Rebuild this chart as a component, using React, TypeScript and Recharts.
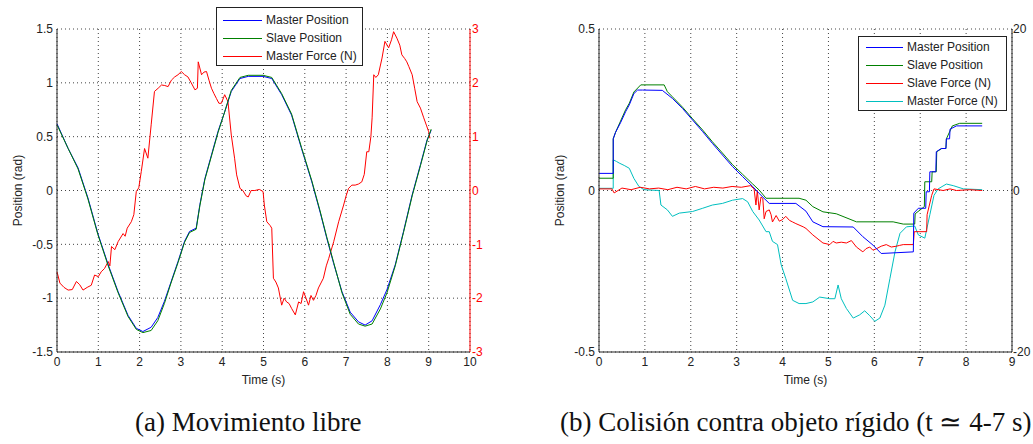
import React from "react";
import { LineChart, Line, XAxis, YAxis, CartesianGrid } from "recharts";

// ---- (a) free movement: [time s, value]
const masterPosA: [number, number][] = [
  [0, 0.62], [0.27, 0.39], [0.51, 0.21], [0.75, -0.07], [0.99, -0.4], [1.24, -0.69],
  [1.48, -0.94], [1.72, -1.16], [1.92, -1.28], [2.08, -1.31], [2.28, -1.27], [2.44, -1.18],
  [2.6, -1.03], [2.76, -0.85], [2.93, -0.66], [3.09, -0.47], [3.21, -0.38], [3.37, -0.35],
  [3.46, -0.13], [3.58, 0.11], [3.74, 0.33], [3.9, 0.55], [4.06, 0.73], [4.22, 0.92],
  [4.43, 1.04], [4.63, 1.06], [4.99, 1.06], [5.2, 1.04], [5.44, 0.89], [5.68, 0.7],
  [5.92, 0.39], [6.17, 0.08], [6.37, -0.2], [6.53, -0.44], [6.7, -0.68], [6.9, -0.94],
  [7.1, -1.13], [7.3, -1.22], [7.46, -1.25], [7.63, -1.21], [7.83, -1.06], [7.99, -0.92],
  [8.19, -0.69], [8.39, -0.38], [8.6, -0.04], [8.8, 0.24], [8.96, 0.47], [9.06, 0.56],
];

const slavePosA: [number, number][] = [
  [0, 0.61], [0.27, 0.39], [0.51, 0.2], [0.75, -0.08], [0.99, -0.41], [1.24, -0.7],
  [1.48, -0.95], [1.72, -1.17], [1.92, -1.29], [2.08, -1.32], [2.28, -1.3], [2.44, -1.21],
  [2.6, -1.05], [2.76, -0.86], [2.93, -0.67], [3.09, -0.48], [3.21, -0.39], [3.37, -0.36],
  [3.46, -0.14], [3.58, 0.1], [3.74, 0.32], [3.9, 0.54], [4.06, 0.73], [4.22, 0.93],
  [4.43, 1.05], [4.63, 1.07], [4.99, 1.07], [5.2, 1.05], [5.44, 0.9], [5.68, 0.71],
  [5.92, 0.4], [6.17, 0.09], [6.37, -0.19], [6.53, -0.43], [6.7, -0.67], [6.9, -0.95],
  [7.1, -1.15], [7.3, -1.24], [7.46, -1.26], [7.63, -1.24], [7.83, -1.1], [7.99, -0.95],
  [8.19, -0.7], [8.39, -0.39], [8.6, -0.05], [8.8, 0.23], [8.96, 0.46], [9.06, 0.57],
];

const masterForceA: [number, number][] = [
  [0, -1.51], [0.07, -1.72], [0.17, -1.8], [0.27, -1.85], [0.37, -1.84], [0.47, -1.69],
  [0.55, -1.75], [0.63, -1.85], [0.73, -1.8], [0.83, -1.76], [0.91, -1.57], [1.0, -1.6],
  [1.07, -1.51], [1.15, -1.45], [1.24, -1.32], [1.28, -1.4], [1.32, -1.04], [1.4, -1.1],
  [1.48, -0.95], [1.6, -0.8], [1.65, -0.85], [1.7, -0.7], [1.8, -0.58], [1.86, -0.45],
  [1.92, -0.02], [1.98, 0.05], [2.04, 0.35], [2.12, 0.78], [2.2, 0.6], [2.28, 1.22],
  [2.36, 1.84], [2.45, 1.9], [2.53, 1.96], [2.61, 1.95], [2.69, 1.93], [2.77, 2.05],
  [2.85, 2.11], [2.93, 2.15], [3.01, 2.21], [3.09, 2.15], [3.17, 2.11], [3.25, 2.0],
  [3.34, 1.87], [3.4, 1.9], [3.42, 2.39], [3.5, 2.15], [3.56, 2.2], [3.62, 2.21],
  [3.68, 2.05], [3.74, 1.9], [3.8, 1.8], [3.86, 1.71], [3.92, 1.62], [3.98, 1.62],
  [4.06, 1.78], [4.14, 1.65], [4.22, 1.03], [4.3, 0.6], [4.35, 0.29], [4.43, 0.04],
  [4.5, 0.0], [4.58, -0.1], [4.63, -0.12], [4.7, 0.0], [4.79, 0.0], [4.9, 0.02],
  [4.99, -0.02], [5.02, -0.27], [5.08, -0.58], [5.16, -0.65], [5.2, -0.7], [5.24, -1.63],
  [5.3, -1.7], [5.36, -1.81], [5.44, -2.13], [5.5, -2.0], [5.56, -2.07], [5.62, -2.1],
  [5.68, -2.19], [5.77, -2.31], [5.85, -2.07], [5.91, -2.1], [5.97, -1.88], [6.03, -2.0],
  [6.09, -2.13], [6.15, -1.95], [6.21, -2.04], [6.27, -1.95], [6.33, -1.81], [6.45, -1.63],
  [6.52, -1.4], [6.58, -1.26], [6.7, -0.95], [6.82, -0.58], [6.94, -0.27], [7.0, -0.1],
  [7.06, 0.04], [7.14, 0.1], [7.22, 0.1], [7.3, 0.12], [7.38, 0.16], [7.44, 0.3],
  [7.5, 0.72], [7.55, 0.72], [7.6, 1.0], [7.63, 1.35], [7.67, 2.15], [7.72, 2.1],
  [7.78, 2.15], [7.87, 2.46], [7.94, 2.77], [8.03, 2.65], [8.1, 2.8], [8.15, 2.95],
  [8.23, 2.83], [8.3, 2.7], [8.35, 2.52], [8.42, 2.45], [8.47, 2.39], [8.52, 2.3],
  [8.6, 2.15], [8.66, 1.9], [8.72, 1.65], [8.8, 1.53], [8.88, 1.35], [8.95, 1.2],
  [9.0, 1.09], [9.03, 0.97],
];

// ---- (b) collision with rigid object
const masterPosB: [number, number][] = [
  [0, 0.053], [0.31, 0.053], [0.31, 0.16], [0.36, 0.18], [0.47, 0.21], [0.58, 0.244],
  [0.66, 0.265], [0.76, 0.3], [0.84, 0.311], [0.95, 0.311], [1.38, 0.31], [1.6, 0.285],
  [1.82, 0.254], [2.04, 0.218], [2.26, 0.182], [2.47, 0.146], [2.69, 0.11], [2.91, 0.074],
  [3.13, 0.043], [3.35, 0.012], [3.49, -0.009], [3.71, -0.04], [4.29, -0.04], [4.51, -0.064],
  [4.66, -0.097], [4.88, -0.112], [5.54, -0.113], [5.75, -0.143], [5.97, -0.169], [6.15, -0.195],
  [6.85, -0.19], [6.86, -0.07], [6.96, -0.055], [7.12, -0.055], [7.13, -0.004], [7.2, -0.004],
  [7.21, 0.058], [7.34, 0.058], [7.35, 0.12], [7.46, 0.13], [7.56, 0.13], [7.57, 0.16],
  [7.64, 0.16], [7.65, 0.19], [7.79, 0.2], [8.35, 0.2],
];

const slavePosB: [number, number][] = [
  [0, 0.038], [0.31, 0.038], [0.31, 0.16], [0.36, 0.18], [0.47, 0.215], [0.58, 0.25],
  [0.66, 0.27], [0.76, 0.305], [0.91, 0.327], [1.42, 0.327], [1.49, 0.306], [1.6, 0.29],
  [1.82, 0.258], [2.04, 0.222], [2.26, 0.187], [2.47, 0.151], [2.69, 0.116], [2.91, 0.08],
  [3.13, 0.05], [3.35, 0.02], [3.49, 0.0015], [3.64, -0.024], [4.36, -0.024], [4.51, -0.03],
  [4.66, -0.05], [4.88, -0.066], [5.17, -0.072], [5.61, -0.097], [6.41, -0.097], [6.63, -0.104],
  [6.88, -0.104], [6.89, -0.072], [7.09, -0.05], [7.1, 0.027], [7.25, 0.027], [7.26, 0.058],
  [7.35, 0.058], [7.36, 0.12], [7.47, 0.13], [7.56, 0.13], [7.57, 0.16], [7.7, 0.2],
  [7.86, 0.208], [8.35, 0.208],
];

const slaveForceB: [number, number][] = [
  [0, 0.2], [0.28, 0.2], [0.33, -0.3], [0.5, 0.3], [0.7, 0.1], [0.9, 0.4], [1.1, 0.2],
  [1.3, 0.3], [1.5, 0.1], [1.7, 0.4], [1.9, 0.2], [2.1, 0.5], [2.3, 0.2], [2.5, 0.4],
  [2.7, 0.3], [2.9, 0.5], [3.1, 0.4], [3.3, 0.6], [3.38, 0.2], [3.42, -1.8], [3.45, 0.0],
  [3.49, -2.4], [3.53, -0.8], [3.57, -1.0], [3.6, -3.5], [3.64, -2.6], [3.71, -2.4],
  [3.75, -3.0], [3.78, -3.9], [3.86, -3.1], [3.93, -3.8], [4.0, -3.6], [4.07, -3.2],
  [4.15, -3.7], [4.22, -3.9], [4.29, -4.1], [4.45, -4.5], [4.51, -4.7], [4.66, -5.5],
  [4.88, -6.5], [5.03, -6.7], [5.1, -6.3], [5.17, -6.5], [5.28, -6.4], [5.39, -6.5],
  [5.5, -6.2], [5.61, -7.0], [5.75, -7.6], [5.82, -7.2], [5.9, -7.0], [5.97, -7.4],
  [6.05, -7.2], [6.15, -6.9], [6.26, -6.7], [6.37, -7.0], [6.48, -6.9], [6.55, -6.8],
  [6.63, -6.7], [6.85, -6.7], [6.87, -5.1], [7.14, -5.1], [7.15, -3.0], [7.25, -0.6],
  [7.3, 0.2], [7.5, 0.0], [7.65, 0.2], [7.79, 0.0], [8.08, 0.1], [8.35, 0.0],
];

const masterForceB: [number, number][] = [
  [0, 0.27], [0.31, 0.27], [0.31, 3.8], [0.38, 3.6], [0.44, 3.4], [0.55, 3.1],
  [0.66, 2.75], [0.76, 1.5], [0.87, 0.5], [0.98, 0.1], [1.31, 0.0], [1.35, -1.8],
  [1.49, -2.4], [1.6, -3.2], [1.75, -2.8], [2.04, -2.6], [2.26, -2.2], [2.47, -1.8],
  [2.69, -1.6], [2.91, -1.2], [3.13, -1.0], [3.24, -1.4], [3.35, -2.6], [3.49, -3.65],
  [3.64, -5.1], [3.71, -5.1], [3.78, -6.3], [3.89, -6.7], [3.97, -9.2], [4.07, -10.9],
  [4.22, -13.6], [4.36, -14.0], [4.51, -14.0], [4.66, -13.8], [4.81, -13.2], [5.03, -13.4],
  [5.14, -13.4], [5.21, -11.7], [5.28, -13.4], [5.39, -14.6], [5.54, -15.8], [5.68, -15.4],
  [5.79, -14.9], [5.9, -15.5], [6.01, -16.2], [6.12, -15.8], [6.23, -14.2], [6.34, -10.9],
  [6.45, -7.6], [6.56, -5.3], [6.7, -4.5], [6.88, -4.4], [6.96, -5.5], [7.1, -5.9],
  [7.21, -3.0], [7.3, -0.6], [7.39, 0.2], [7.57, 0.8], [7.72, 0.6], [7.94, 0.2], [8.35, 0.1],
];

const ticksTimeA = [0, 1, 2, 3, 4, 5, 6, 7, 8, 9, 10];
const ticksPosA = [-1.5, -1, -0.5, 0, 0.5, 1, 1.5];
const ticksForceA = [-3, -2, -1, 0, 1, 2, 3];
const ticksTimeB = [0, 1, 2, 3, 4, 5, 6, 7, 8, 9];
const ticksPosB = [-0.5, 0, 0.5];
const ticksForceB = [-20, 0, 20];

const legendA = [
  { name: "Master Position", color: "#0000ff" },
  { name: "Slave Position", color: "#008000" },
  { name: "Master Force (N)", color: "#ff0000" },
];
const legendB = [
  { name: "Master Position", color: "#0000ff" },
  { name: "Slave Position", color: "#008000" },
  { name: "Slave Force (N)", color: "#ff0000" },
  { name: "Master Force (N)", color: "#00bfbf" },
];

const toPts = (arr: [number, number][]) => arr.map(([t, v]) => ({ t, v }));

const FONT = '"Liberation Sans", Arial, sans-serif';
const tickStyle = { fontSize: 12, fill: "#222", fontFamily: FONT };

function LegendBox({ items, left, top, width, height, padTop, lineLeft, lineLen }: any) {
  return (
    <div
      style={{
        position: "absolute",
        left,
        top,
        width,
        height,
        boxSizing: "border-box",
        border: "1px solid #222",
        background: "#fff",
        paddingTop: padTop,
        fontFamily: FONT,
        fontSize: 12,
        color: "#222",
      }}
    >
      {items.map((it: any) => (
        <div key={it.name} style={{ height: 18, display: "flex", alignItems: "center", whiteSpace: "nowrap" }}>
          <svg width={lineLeft + lineLen} height={18} style={{ display: "block", flex: "none" }}>
            <line x1={lineLeft} x2={lineLeft + lineLen} y1={9.5} y2={9.5} stroke={it.color} strokeWidth={1} />
          </svg>
          <span style={{ marginLeft: 4 }}>{it.name}</span>
        </div>
      ))}
    </div>
  );
}

function ChartA() {
  return (
    <LineChart width={520} height={392} margin={{ top: 29, right: 0, bottom: 0, left: 0 }}>
      <CartesianGrid yAxisId="pos" stroke="#444" strokeDasharray="1 3" />
      <XAxis
        dataKey="t"
        type="number"
        domain={[0, 10]}
        ticks={ticksTimeA}
        height={40}
        tickLine={false}
        tickSize={3}
        tickMargin={2}
        tick={tickStyle}
        axisLine={{ stroke: "#222" }}
        label={{ value: "Time (s)", position: "insideTop", offset: 23, style: { fontSize: 12, fill: "#222", fontFamily: FONT } }}
      />
      <XAxis xAxisId="top" orientation="top" dataKey="t" type="number" domain={[0, 10]} height={0} tick={false} tickLine={false} axisLine={{ stroke: "#222" }} />
      <YAxis
        yAxisId="pos"
        domain={[-1.5, 1.5]}
        ticks={ticksPosA}
        width={57}
        tickLine={false}
        tickSize={2}
        tickMargin={2}
        tick={tickStyle}
        axisLine={{ stroke: "#222" }}
        label={{ value: "Position (rad)", angle: -90, position: "insideLeft", offset: 18, style: { textAnchor: "middle", fontSize: 12, fill: "#222", fontFamily: FONT } }}
      />
      <YAxis
        yAxisId="force"
        orientation="right"
        domain={[-3, 3]}
        ticks={ticksForceA}
        width={50}
        tickLine={false}
        tickSize={0}
        tickMargin={2}
        tick={{ ...tickStyle, fill: "#ff0000" }}
        axisLine={{ stroke: "#ff0000" }}
      />
      <Line yAxisId="force" data={toPts(masterForceA)} dataKey="v" stroke="#ff0000" strokeWidth={1} dot={false} activeDot={false} isAnimationActive={false} />
      <Line yAxisId="pos" data={toPts(masterPosA)} dataKey="v" stroke="#0000ff" strokeWidth={1} dot={false} activeDot={false} isAnimationActive={false} />
      <Line yAxisId="pos" data={toPts(slavePosA)} dataKey="v" stroke="#008000" strokeWidth={1} dot={false} activeDot={false} isAnimationActive={false} />
    </LineChart>
  );
}

function ChartB() {
  return (
    <LineChart width={513} height={392} margin={{ top: 29, right: 0, bottom: 0, left: 0 }}>
      <CartesianGrid yAxisId="pos" stroke="#444" strokeDasharray="1 3" />
      <XAxis
        dataKey="t"
        type="number"
        domain={[0, 9]}
        ticks={ticksTimeB}
        height={40}
        tickLine={false}
        tickSize={3}
        tickMargin={2}
        tick={tickStyle}
        axisLine={{ stroke: "#222" }}
        label={{ value: "Time (s)", position: "insideTop", offset: 23, style: { fontSize: 12, fill: "#222", fontFamily: FONT } }}
      />
      <XAxis xAxisId="top" orientation="top" dataKey="t" type="number" domain={[0, 9]} height={0} tick={false} tickLine={false} axisLine={{ stroke: "#222" }} />
      <YAxis
        yAxisId="pos"
        domain={[-0.5, 0.5]}
        ticks={ticksPosB}
        width={79}
        tickLine={false}
        tickSize={2}
        tickMargin={2}
        tick={tickStyle}
        axisLine={{ stroke: "#222" }}
        label={{ value: "Position (rad)", angle: -90, position: "insideLeft", offset: 40, style: { textAnchor: "middle", fontSize: 12, fill: "#222", fontFamily: FONT } }}
      />
      <YAxis
        yAxisId="force"
        orientation="right"
        domain={[-20, 20]}
        ticks={ticksForceB}
        width={21}
        tickLine={false}
        tickSize={0}
        tickMargin={1}
        tick={tickStyle}
        axisLine={{ stroke: "#222" }}
      />
      <Line yAxisId="force" data={toPts(masterForceB)} dataKey="v" stroke="#00bfbf" strokeWidth={1} dot={false} activeDot={false} isAnimationActive={false} />
      <Line yAxisId="force" data={toPts(slaveForceB)} dataKey="v" stroke="#ff0000" strokeWidth={1} dot={false} activeDot={false} isAnimationActive={false} />
      <Line yAxisId="pos" data={toPts(slavePosB)} dataKey="v" stroke="#008000" strokeWidth={1} dot={false} activeDot={false} isAnimationActive={false} />
      <Line yAxisId="pos" data={toPts(masterPosB)} dataKey="v" stroke="#0000ff" strokeWidth={1} dot={false} activeDot={false} isAnimationActive={false} />
    </LineChart>
  );
}

const captionStyle: React.CSSProperties = {
  position: "absolute",
  top: 409,
  fontFamily: '"Liberation Serif", "Times New Roman", serif',
  fontSize: 27,
  lineHeight: "27px",
  color: "#111",
  whiteSpace: "nowrap",
};

export default function App() {
  return (
    <div style={{ position: "absolute", left: 0, top: 0, width: 1033, height: 444, background: "#fff", overflow: "hidden" }}>
      <div style={{ position: "absolute", left: 0, top: 0 }}>
        <ChartA />
      </div>
      <div style={{ position: "absolute", left: 520, top: 0 }}>
        <ChartB />
      </div>
      <LegendBox items={legendA} left={216} top={7} width={147} height={59} padTop={3} lineLeft={6} lineLen={39} />
      <LegendBox items={legendB} left={858} top={36} width={149} height={75} padTop={1} lineLeft={7} lineLen={37} />
      <div style={{ ...captionStyle, left: 135 }}>(a) Movimiento libre</div>
      <div style={{ ...captionStyle, left: 560 }}>(b) Colisión contra objeto rígido (t ≃ 4-7 s)</div>
    </div>
  );
}
